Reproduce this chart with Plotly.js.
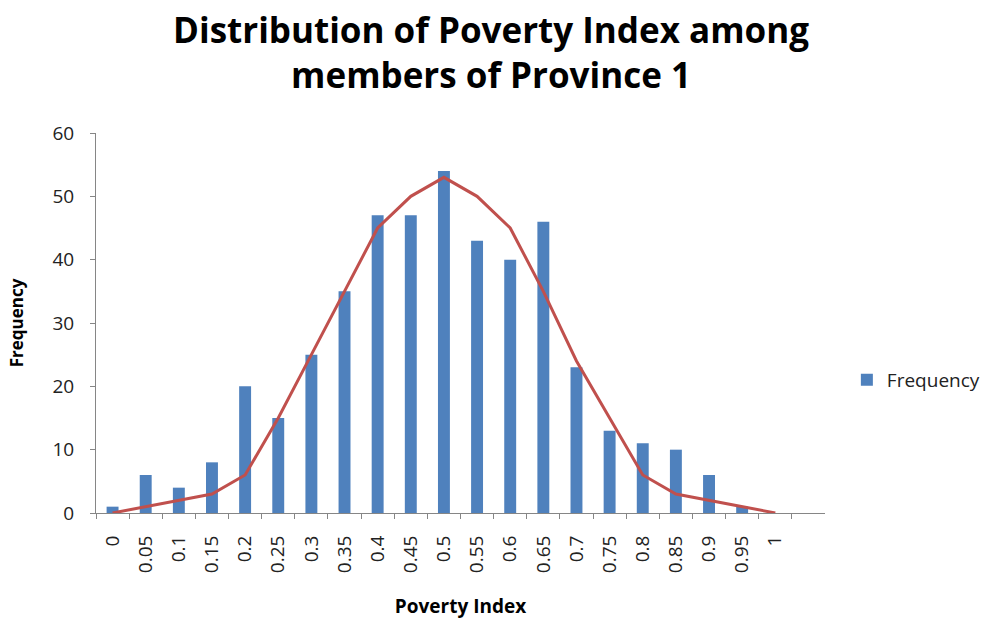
<!DOCTYPE html>
<html>
<head>
<meta charset="utf-8">
<script src="https://cdn.plot.ly/plotly-3.0.1.min.js"></script>
<style>html,body{margin:0;padding:0;background:#fff;}#chart{width:989px;height:627px;}</style>
</head>
<body>
<div id="chart"></div>
<script>
const categories = ["0","0.05","0.1","0.15","0.2","0.25","0.3","0.35","0.4","0.45","0.5","0.55","0.6","0.65","0.7","0.75","0.8","0.85","0.9","0.95","1"];
const frequency = [1,6,4,8,20,15,25,35,47,47,54,43,40,46,23,13,11,10,6,1,0];
const curve = [0,1,2,3,6,15,25,35,45,50,53,50,45,35,24,15,6,3,2,1,0];
const yTicks = [0,10,20,30,40,50,60];

const font = "'Open Sans', Lato, sans-serif";

const data = [
  {type:"bar", x:categories, y:frequency, name:"Frequency", width:0.36,
   marker:{color:"#4F81BD", line:{width:0}}},
  {type:"scatter", mode:"lines", x:categories, y:curve, name:"Curve", showlegend:false,
   line:{color:"#C0504D", width:3}}
];

const layout = {
  width:989, height:627,
  margin:{l:96, r:164, t:133, b:114, autoexpand:false},
  paper_bgcolor:"#fff", plot_bgcolor:"#fff",
  font:{family:font, color:"#222", size:16},
  title:{text:"<b>Distribution of Poverty Index among<br>members of Province 1</b>",
    font:{family:font, size:35, color:"#000"},
    x:0.4965, xref:"container", xanchor:"center", y:0.932, yref:"container", yanchor:"top"},
  xaxis:{type:"category", categoryorder:"array", categoryarray:categories,
    range:[-0.5, 21.5], tickson:"boundaries", ticks:"outside", ticklen:5, tickcolor:"#868686",
    showline:true, linecolor:"#868686", linewidth:1, showgrid:false, zeroline:false,
    tickangle:-90, ticklabelstandoff:14, tickfont:{family:font, size:19, color:"#222"},
    title:{text:"<b>Poverty Index</b>", font:{family:font, size:19, color:"#000"}, standoff:27}},
  yaxis:{range:[0,60], tickvals:yTicks, ticks:"outside", ticklen:5, tickcolor:"#868686",
    showline:true, linecolor:"#868686", linewidth:1, showgrid:false, zeroline:false,
    ticklabelstandoff:12, tickfont:{family:font, size:19, color:"#222"},
    title:{text:"<b>Frequency</b>", font:{family:font, size:17, color:"#000"}, standoff:24}},
  legend:{x:1.03, xanchor:"left", y:0.35, yanchor:"middle", font:{family:font, size:19, color:"#222"},
    bgcolor:"rgba(0,0,0,0)"},
  showlegend:true
};

Plotly.newPlot("chart", data, layout, {displayModeBar:false, staticPlot:true});
</script>
</body>
</html>
